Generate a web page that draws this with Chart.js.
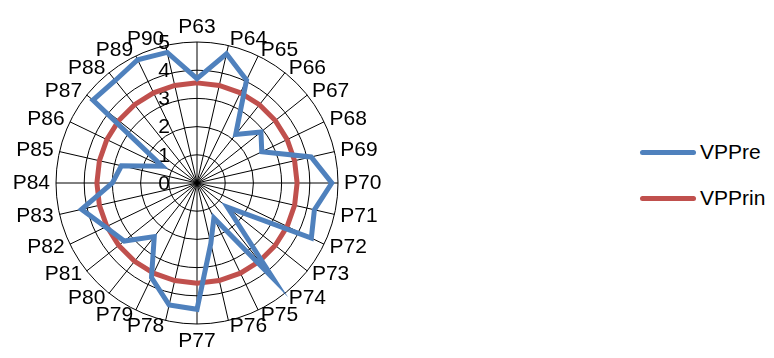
<!DOCTYPE html>
<html>
<head>
<meta charset="utf-8">
<script src="https://cdn.jsdelivr.net/npm/chart.js@4.4.1/dist/chart.umd.min.js"></script>
<style>
  body { margin: 0; background: #fff; font-family: "Liberation Sans", Arial, sans-serif; }
  #wrap { position: relative; width: 774px; height: 358px; }
  #radar { position: absolute; left: 0; top: 0; }
  .item { position: absolute; left: 640px; height: 26px; display: flex; align-items: center; font-size: 21px; color: #000; }
  .item span.linea { display: inline-block; width: 56px; height: 5px; border-radius: 3px; margin-right: 4px; }
</style>
</head>
<body>
<div id="wrap">
  <canvas id="radar" width="395" height="358"></canvas>
  <div class="item" style="top:139px"><span class="linea" style="background:#4F81BD"></span>VPPre</div>
  <div class="item" style="top:185px"><span class="linea" style="background:#C0504D"></span>VPPrin</div>
</div>
<script>
// categorias del eje radial
const categorias = [
  "P63", "P64", "P65", "P66", "P67", "P68", "P69", "P70", "P71", "P72",
  "P73", "P74", "P75", "P76", "P77", "P78", "P79", "P80", "P81", "P82",
  "P83", "P84", "P85", "P86", "P87", "P88", "P89", "P90",
];

const vppre = [
  3.7, 4.7, 4.05, 2.2, 2.9, 2.55, 4.15, 4.78, 4.27, 4.5,
  1.38, 4.32, 1.38, 2.2, 4.48, 4.44, 3.72, 2.43, 3.3, 3.6,
  4.2, 3.0, 2.75, 1.37, 4.72, 4.65, 4.85, 4.75,
];

const vpprin = [
  3.55, 3.55, 3.55, 3.55, 3.55, 3.55, 3.55, 3.55, 3.55, 3.55,
  3.55, 3.55, 3.55, 3.55, 3.55, 3.55, 3.55, 3.55, 3.55, 3.55,
  3.55, 3.55, 3.55, 3.55, 3.55, 3.55, 3.55, 3.55,
];

const marcas = [0, 1, 2, 3, 4, 5];

const fuente = "21px 'Liberation Sans', Arial, sans-serif";

// rotulos estilo Excel: numeros a la izquierda del eje y categorias pegadas al circulo
const rotulos = {
  id: "rotulos",
  beforeDatasetsDraw(chart) {
    const r = chart.scales.r;
    const ctx = chart.ctx;
    const n = chart.data.labels.length;
    ctx.save();
    ctx.font = fuente;
    ctx.fillStyle = "#000";
    ctx.textBaseline = "middle";

    ctx.textAlign = "right";
    marcas.forEach((m) => {
      const d = r.getDistanceFromCenterForValue(m);
      ctx.fillText(String(m), r.xCenter - 27, r.yCenter - d + 1);
    });

    chart.data.labels.forEach((txt, i) => {
      const p = r.getPointPosition(i, r.drawingArea + 6);
      let y = p.y;
      if (i === 0) {
        ctx.textAlign = "center";
        y = p.y - 9;
      } else if (i * 2 === n) {
        ctx.textAlign = "center";
        y = p.y + 11;
      } else if (i * 2 < n) {
        ctx.textAlign = "left";
      } else {
        ctx.textAlign = "right";
      }
      ctx.fillText(txt, p.x, y);
    });
    ctx.restore();
  },
};

const ctx = document.getElementById("radar").getContext("2d");

new Chart(ctx, {
  type: "radar",
  data: {
    labels: categorias,
    datasets: [
      {
        label: "VPPre",
        data: vppre,
        borderColor: "#4F81BD",
        backgroundColor: "rgba(0,0,0,0)",
        borderWidth: 5,
        pointRadius: 0,
        fill: false,
      },
      {
        label: "VPPrin",
        data: vpprin,
        borderColor: "#C0504D",
        backgroundColor: "rgba(0,0,0,0)",
        borderWidth: 5,
        pointRadius: 0,
        fill: false,
      },
    ],
  },
  options: {
    responsive: false,
    animation: false,
    layout: { padding: { top: 42, bottom: 34 } },
    plugins: {
      legend: { display: false },
      tooltip: { enabled: false },
    },
    scales: {
      r: {
        min: 0,
        max: 5,
        ticks: { stepSize: 1, display: false },
        grid: { circular: true, color: "#000", lineWidth: 1 },
        angleLines: { color: "#000", lineWidth: 1 },
        pointLabels: { display: false },
      },
    },
  },
  plugins: [rotulos],
});
</script>
</body>
</html>
